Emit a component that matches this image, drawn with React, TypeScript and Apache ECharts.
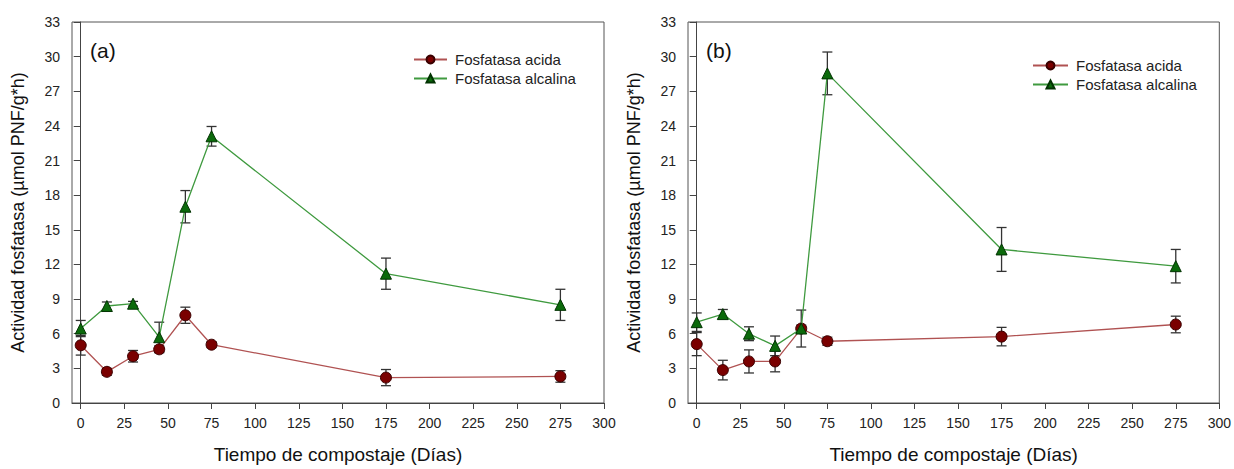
import React, { useEffect, useRef } from "react";
import * as echarts from "echarts";

// Sampling days
const days = [0, 15, 30, 45, 60, 75, 175, 275];

// Panel (a)
const acidA = [5.0, 2.7, 4.05, 4.65, 7.6, 5.05, 2.2, 2.3];
const acidAErr = [0.85, 0.3, 0.5, 0.3, 0.7, 0.25, 0.7, 0.5];
const alkA = [6.45, 8.4, 8.6, 5.7, 17.0, 23.1, 11.2, 8.5];
const alkAErr = [0.7, 0.35, 0.2, 1.3, 1.4, 0.85, 1.35, 1.35];

// Panel (b)
const acidB = [5.1, 2.85, 3.6, 3.6, 6.45, 5.35, 5.75, 6.8];
const acidBErr = [1.0, 0.85, 1.0, 0.9, 0.3, 0.35, 0.8, 0.72];
const alkB = [7.0, 7.7, 6.0, 4.95, 6.45, 28.55, 13.3, 11.85];
const alkBErr = [0.8, 0.4, 0.6, 0.85, 1.6, 1.85, 1.9, 1.45];

const xTicks = [0, 25, 50, 75, 100, 125, 150, 175, 200, 225, 250, 275, 300];

const seriesNames = ["Fosfatasa acida", "Fosfatasa alcalina"];
const panelLabels = ["(a)", "(b)"];
const xTitle = "Tiempo de compostaje (Días)";
const yTitle = "Actividad fosfatasa (µmol PNF/g*h)";

const FONT = "Liberation Sans, Arial, sans-serif";
const ACID_LINE = "#b05252";
const ACID_FILL = "#7a0000";
const ALK_LINE = "#3f9a3f";
const ALK_FILL = "#0b6a0b";
const BAR = "#333333";

const pairs = (ys: number[]) => days.map((d, i) => [d, ys[i]]);
const triples = (ys: number[], es: number[]) => days.map((d, i) => [d, ys[i], es[i]]);

function errorBars(idx: number, ys: number[], es: number[]) {
  return {
    type: "custom",
    xAxisIndex: idx,
    yAxisIndex: idx,
    z: 3,
    silent: true,
    encode: { x: 0, y: 1 },
    data: triples(ys, es),
    renderItem: (_p: any, api: any) => {
      const x = api.value(0);
      const y = api.value(1);
      const e = api.value(2);
      const top = api.coord([x, y + e]);
      const bot = api.coord([x, y - e]);
      const hw = 5;
      const style = { stroke: BAR, lineWidth: 1.3 };
      return {
        type: "group",
        children: [
          { type: "line", shape: { x1: top[0], y1: top[1], x2: bot[0], y2: bot[1] }, style },
          { type: "line", shape: { x1: top[0] - hw, y1: top[1], x2: top[0] + hw, y2: top[1] }, style },
          { type: "line", shape: { x1: bot[0] - hw, y1: bot[1], x2: bot[0] + hw, y2: bot[1] }, style },
        ],
      };
    },
  };
}

function lineSeries(idx: number, name: string, ys: number[], kind: "acid" | "alk") {
  const acid = kind === "acid";
  return {
    type: "line",
    name,
    xAxisIndex: idx,
    yAxisIndex: idx,
    z: acid ? 4 : 5,
    data: pairs(ys),
    symbol: acid ? "circle" : "triangle",
    symbolSize: 11,
    showAllSymbol: true,
    lineStyle: { color: acid ? ACID_LINE : ALK_LINE, width: 1.3 },
    itemStyle: {
      color: acid ? ACID_FILL : ALK_FILL,
      borderColor: acid ? "#3a0000" : "#023302",
      borderWidth: 1,
    },
    emphasis: { disabled: true },
  };
}

const lefts = [72, 688];

export default function App() {
  const ref = useRef<HTMLDivElement>(null);

  useEffect(() => {
    document.body.style.margin = "0";
    const chart = echarts.init(ref.current!, null, { renderer: "svg" });

    const grids = lefts.map((l) => ({
      left: l,
      top: 22,
      width: 532,
      height: 382,
      show: true,
      borderColor: "#555",
      borderWidth: 1,
      backgroundColor: "transparent",
    }));

    const xAxes = lefts.map((_, i) => ({
      type: "value",
      gridIndex: i,
      min: -5,
      max: 300,
      name: xTitle,
      nameLocation: "middle",
      nameGap: 42,
      nameTextStyle: { fontFamily: FONT, fontSize: 19, color: "#111" },
      axisLine: { show: true, lineStyle: { color: "#444", width: 1 } },
      axisTick: { show: true, length: 6, customValues: xTicks, lineStyle: { color: "#444" } },
      axisLabel: {
        customValues: xTicks,
        fontFamily: FONT,
        fontSize: 14,
        color: "#222",
        margin: 13,
      },
      splitLine: { show: false },
    }));

    const yAxes = lefts.map((_, i) => ({
      type: "value",
      gridIndex: i,
      min: 0,
      max: 33,
      interval: 3,
      name: yTitle,
      nameLocation: "middle",
      nameGap: 45,
      nameTextStyle: { fontFamily: FONT, fontSize: 18, color: "#111" },
      axisLine: { show: true, lineStyle: { color: "#444", width: 1 } },
      axisTick: { show: true, length: 7, lineStyle: { color: "#444" } },
      axisLabel: { fontFamily: FONT, fontSize: 14, color: "#222", margin: 12 },
      splitLine: { show: false },
    }));

    const legendPos = [
      { left: 413, top: 50, itemWidth: 33 },
      { left: 1032, top: 56, itemWidth: 35 },
    ];

    chart.setOption({
      animation: false,
      backgroundColor: "#fff",
      title: panelLabels.map((t, i) => ({
        text: t,
        left: lefts[i] + 13,
        top: 35,
        textStyle: { fontFamily: FONT, fontSize: 21, fontWeight: "normal", color: "#111" },
      })),
      legend: legendPos.map((p) => ({
        ...p,
        orient: "vertical",
        padding: 0,
        data: seriesNames,
        itemHeight: 10,
        itemGap: 0,
        selectedMode: false,
        textStyle: {
          fontFamily: FONT,
          fontSize: 15,
          lineHeight: 19,
          color: "#222",
          padding: [0, 0, 0, 3],
        },
      })),
      grid: grids,
      xAxis: xAxes,
      yAxis: yAxes,
      series: [
        errorBars(0, acidA, acidAErr),
        errorBars(0, alkA, alkAErr),
        lineSeries(0, seriesNames[0], acidA, "acid"),
        lineSeries(0, seriesNames[1], alkA, "alk"),
        errorBars(1, acidB, acidBErr),
        errorBars(1, alkB, alkBErr),
        lineSeries(1, seriesNames[0], acidB, "acid"),
        lineSeries(1, seriesNames[1], alkB, "alk"),
      ],
    });

    return () => chart.dispose();
  }, []);

  return (
    <div
      ref={ref}
      style={{ position: "absolute", left: 0, top: 0, width: 1234, height: 469 }}
    />
  );
}
